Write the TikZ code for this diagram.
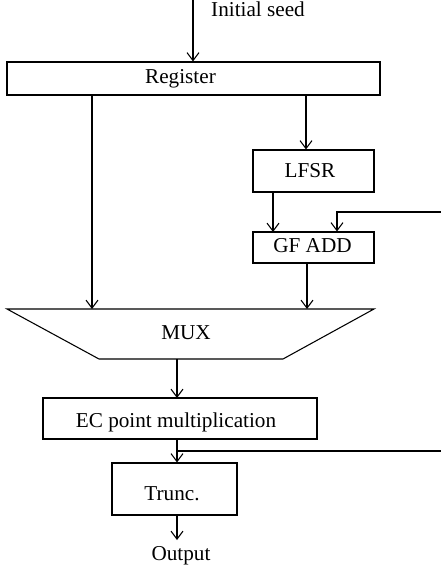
\documentclass[tikz,border=0pt]{standalone}
\usepackage{fontspec}
\setmainfont{Liberation Serif}
\usetikzlibrary{arrows.meta}

\tikzset{
	blk/.style={draw, line width=0.8pt, inner sep=0pt},
	txt/.style={inner sep=0pt, anchor=base, font=\fontsize{15.9}{18}\selectfont},
	wire/.style={line width=0.8pt},
	arr/.style={wire, -{Straight Barb[length=6pt,width=9pt,line width=0.8pt]}}
}

\begin{document}
\begin{tikzpicture}[x=0.75pt,y=-0.75pt]

	\useasboundingbox (0,0) rectangle (441,567);

	\node[blk, minimum width=279.75pt, minimum height=24.75pt] (reg) at (193.5,78.5) {};
	\node[blk, minimum width=90.75pt, minimum height=31.5pt] (lfsr) at (313.5,171) {};
	\node[blk, minimum width=90.75pt, minimum height=23.25pt] (gfadd) at (313.5,247.5) {};
	\node[blk, minimum width=205.5pt, minimum height=30.75pt] (ec) at (180,418.5) {};
	\node[blk, minimum width=93.75pt, minimum height=39pt] (trunc) at (174.5,489) {};

	\coordinate (muxtl) at (7,309);
	\coordinate (muxtr) at (374,309);
	\coordinate (muxbr) at (283,359);
	\coordinate (muxbl) at (99,359);
	\draw[wire, line join=miter] (muxtl) -- (muxtr) -- (muxbr) -- (muxbl) -- cycle;

	\node[txt] (seedtxt) at (258,17) {Initial seed};
	\node[txt] (regtxt) at (180.5,84) {Register};
	\node[txt] (lfsrtxt) at (310,177) {LFSR};
	\node[txt] (gftxt) at (312.5,252) {GF ADD};
	\node[txt] (muxtxt) at (186,339) {MUX};
	\node[txt] (ectxt) at (176,427) {EC point multiplication};
	\node[txt] (trtxt) at (172,500) {Trunc.};
	\node[txt] (outtxt) at (181,560) {Output};

	\coordinate (seedin) at (193,0);
	\coordinate (lefttap) at (92,95);
	\coordinate (righttap) at (306,95);
	\coordinate (fbin) at (441,212);
	\coordinate (fbdown) at (337,212);
	\coordinate (branch) at (177,451);
	\coordinate (fbout) at (441,451);
	\coordinate (outend) at (177,540);

	\draw[arr] (seedin) -- (seedin |- reg.north);
	\draw[arr] (lefttap) -- (lefttap |- muxtl);
	\draw[arr] (righttap) -- (righttap |- lfsr.north);
	\draw[arr] (273,192) -- (273,232);
	\draw[arr] (fbin) -- (fbdown) -- (fbdown |- gfadd.north);
	\draw[arr] (307,263) -- (307,309);
	\draw[arr] (177,359) -- (177,398);
	\draw[arr] (branch |- ec.south) -- (branch |- trunc.north);
	\draw[wire] (branch) -- (fbout);
	\draw[arr] (branch |- trunc.south) -- (outend);

\end{tikzpicture}
\end{document}
